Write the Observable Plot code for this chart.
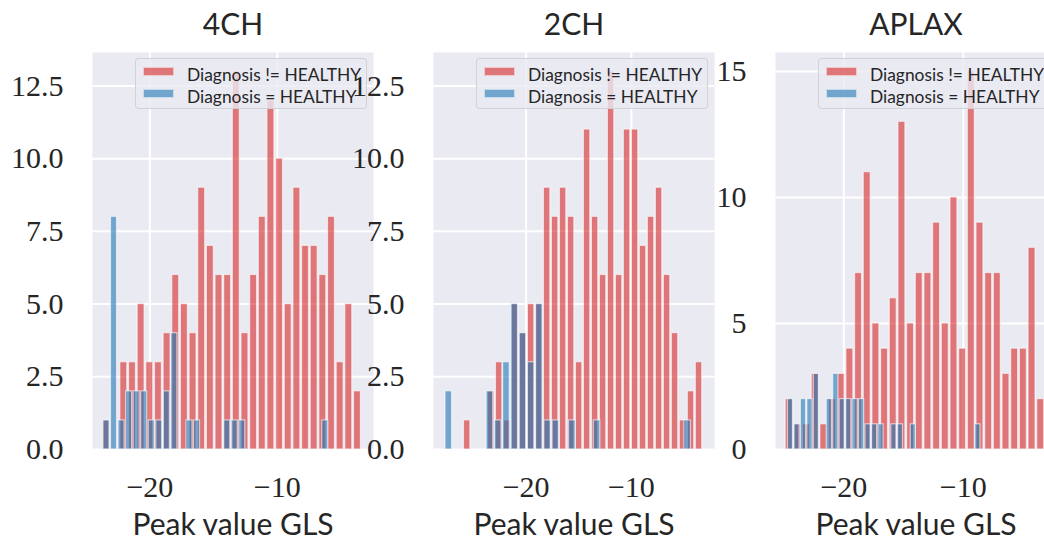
<!DOCTYPE html>
<html><head><meta charset="utf-8">
<script src="https://cdn.jsdelivr.net/npm/d3@7"></script>
<script src="https://cdn.jsdelivr.net/npm/@observablehq/plot@0.6"></script>
<style>
body{margin:0;background:#fff;}
#fig{position:relative;width:1044px;height:540px;overflow:hidden;background:#fff;}
.panel{position:absolute;top:0;}
.legend{position:absolute;top:58px;width:230px;height:49px;background:rgba(234,234,242,0.8);border:1px solid rgba(204,204,204,0.8);border-radius:4px;box-sizing:content-box;font-family:Lato,sans-serif;font-size:17.4px;color:#262626;}
.legend .row{position:absolute;left:7px;height:20px;}
.legend .patch{position:absolute;left:0;width:29px;height:7px;border:1px solid rgba(255,255,255,0.6);}
.legend .lab{position:absolute;left:44px;white-space:nowrap;line-height:20px;top:-1px;}
</style></head><body><div id="fig"></div><script>
// ---- data ----
const panelTitles = ["4CH", "2CH", "APLAX"];
const seriesNames = ["Diagnosis != HEALTHY", "Diagnosis = HEALTHY"];
const xLabel = "Peak value GLS";
const xTicks = [-20, -10];
const yTicksA = [0, 2.5, 5, 7.5, 10, 12.5];
const yTicksB = [0, 5, 10, 15];

// 30-bin histograms: counts and data range [min, max] of each series
const red4CH  = [1,0,3,3,5,3,3,4,6,5,4,9,7,6,6,13,4,6,8,12,10,5,9,7,7,6,8,3,5,2];
const blue4CH = [1,8,1,2,2,2,1,1,2,4,0,1,1,0,0,0,1,1,1,0,0,0,0,0,0,0,0,0,0,1];
const redRange4CH  = [-23.74, -3.37];
const blueRange4CH = [-23.70, -5.94];

const red2CH  = [1,0,0,2,3,1,5,4,5,5,9,8,9,8,3,11,8,6,13,6,11,11,7,8,9,6,4,1,2,3];
const blue2CH = [2,0,0,0,0,2,1,3,5,4,3,5,1,1,0,1,0,0,1,0,0,0,0,0,0,0,0,0,0,1];
const redRange2CH  = [-25.98, -3.19];
const blueRange2CH = [-27.74, -4.26];

const redAPLAX  = [2,1,1,3,1,2,3,4,7,11,5,4,6,13,5,7,7,9,5,10,4,15,9,7,7,3,4,4,8,2];
const blueAPLAX = [2,1,2,2,3,0,2,3,2,2,2,2,1,1,1,0,1,1,0,1,0,0,0,0,0,0,0,0,0,1];
const redRangeAPLAX  = [-24.94, -3.16];
const blueRangeAPLAX = [-24.73, -8.51];

// ---- layout / style ----
const RED = "#d62728", BLUE = "#1f77b4";
const SANS = "Lato, sans-serif";
const panelLefts = [92, 433, 775];
const plotW = 281, ML = 92, MR = 2, MT = 52, MB = 91;

const panels = [
  {title: panelTitles[0], red: red4CH, blue: blue4CH, rr: redRange4CH, br: blueRange4CH,
   xDomain: [-24.5, -2.45], yTicks: yTicksA, fmt: d3.format(".1f")},
  {title: panelTitles[1], red: red2CH, blue: blue2CH, rr: redRange2CH, br: blueRange2CH,
   xDomain: [-28.8, -2.1], yTicks: yTicksA, fmt: d3.format(".1f")},
  {title: panelTitles[2], red: redAPLAX, blue: blueAPLAX, rr: redRangeAPLAX, br: blueRangeAPLAX,
   xDomain: [-25.72, -2.2], yTicks: yTicksB, fmt: d3.format("d")}
];

function bins(counts, range) {
  const [lo, hi] = range;
  const w = (hi - lo) / counts.length;
  return counts.map((c, i) => ({x1: lo + i * w + 0.1 * w, x2: lo + (i + 1) * w - 0.1 * w, count: c}))
    .filter(d => d.count > 0);
}

const fig = document.getElementById("fig");
panels.forEach((p, k) => {
  const yMax = d3.max([...p.red, ...p.blue]) * 1.05;
  const grid = {stroke: "white", strokeOpacity: 1, strokeWidth: 2};
  const bar = {x1: "x1", x2: "x2", y1: 0, y2: "count", fillOpacity: 0.6, stroke: "white", strokeOpacity: 0.6, strokeWidth: 1.2, clip: true};
  const svg = Plot.plot({
    width: ML + plotW + MR, height: 540,
    marginLeft: ML, marginRight: MR, marginTop: MT, marginBottom: MB,
    x: {domain: p.xDomain},
    y: {domain: [0, yMax]},
    style: {background: "transparent", overflow: "visible", fontFamily: "Liberation Serif, serif", fontSize: "30px", color: "#262626"},
    marks: [
      Plot.frame({fill: "#EAEAF2", stroke: "none"}),
      Plot.gridX(xTicks, grid),
      Plot.gridY(p.yTicks, grid),
      Plot.rectY(bins(p.red, p.rr), {...bar, fill: RED}),
      Plot.rectY(bins(p.blue, p.br), {...bar, fill: BLUE}),
      Plot.axisX(xTicks, {tickSize: 0, tickPadding: 26, label: null, tickFormat: d3.format("d")}),
      Plot.axisY(p.yTicks, {tickSize: 0, tickPadding: 29, label: null, tickFormat: p.fmt}),
      Plot.text([p.title], {text: d => d, frameAnchor: "top", lineAnchor: "bottom", dy: -18, fontFamily: SANS, fontSize: 30, fill: "#262626"}),
      Plot.text([xLabel], {text: d => d, frameAnchor: "bottom", lineAnchor: "bottom", dy: 85, fontFamily: SANS, fontSize: 30, fill: "#262626"})
    ]
  });
  svg.classList.add("panel");
  svg.style.left = (panelLefts[k] - ML) + "px";
  fig.appendChild(svg);

  const lg = document.createElement("div");
  lg.className = "legend";
  lg.style.left = (panelLefts[k] + 43) + "px";
  [RED, BLUE].forEach((c, j) => {
    const row = document.createElement("div");
    row.className = "row";
    row.style.top = (j === 0 ? 7 : 29) + "px";
    const patch = document.createElement("div");
    patch.className = "patch";
    patch.style.top = "1px";
    patch.style.background = d3.color(c).copy({opacity: 0.6}).toString();
    const lab = document.createElement("div");
    lab.className = "lab";
    lab.textContent = seriesNames[j];
    row.appendChild(patch); row.appendChild(lab);
    lg.appendChild(row);
  });
  fig.appendChild(lg);
});
</script></body></html>
